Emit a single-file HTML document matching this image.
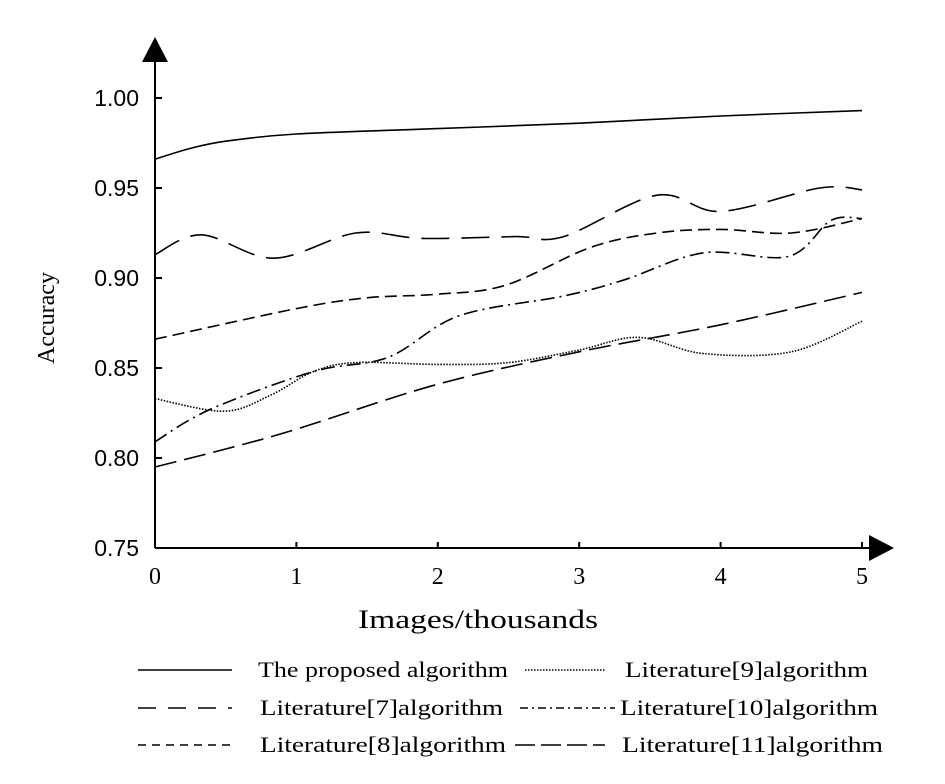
<!DOCTYPE html>
<html><head><meta charset="utf-8"><style>
body{margin:0;background:#fff}
svg{display:block}
</style></head><body>
<svg width="945" height="784" viewBox="0 0 945 784" xmlns="http://www.w3.org/2000/svg">
<g id="axes"></g>
<g id="series"></g>
<g id="legend"></g>
</svg>
<script>
const xTicks=[0,1,2,3,4,5];
const yTicks=[0.75,0.80,0.85,0.90,0.95,1.00];
const yTickLabels=["0.75","0.80","0.85","0.90","0.95","1.00"];
const proposedX=[0,0.25,0.5,1,2,3,4,5];
const proposedY=[0.966,0.972,0.976,0.980,0.983,0.986,0.990,0.993];
const lit7X=[0,0.33,0.84,1.42,1.89,2.55,2.89,3.55,4.0,4.7,5];
const lit7Y=[0.913,0.924,0.911,0.925,0.922,0.923,0.923,0.946,0.937,0.950,0.949];
const lit8X=[0,1,1.5,2,2.48,3.08,3.55,4,4.5,5];
const lit8Y=[0.866,0.883,0.889,0.891,0.896,0.917,0.925,0.927,0.925,0.933];
const lit9X=[0,0.49,0.82,1.12,1.42,2,2.5,3,3.42,3.88,4.5,5];
const lit9Y=[0.833,0.826,0.835,0.848,0.853,0.852,0.853,0.860,0.867,0.858,0.859,0.876];
const lit10X=[0,0.39,1.12,1.65,2.15,2.89,3.32,3.88,4.48,4.78,5];
const lit10Y=[0.809,0.827,0.848,0.856,0.879,0.890,0.899,0.914,0.912,0.932,0.933];
const lit11X=[0,0.5,1,2,3,4,5];
const lit11Y=[0.795,0.805,0.816,0.841,0.859,0.874,0.892];
const legendLabels=["The proposed algorithm","Literature[7]algorithm","Literature[8]algorithm","Literature[9]algorithm","Literature[10]algorithm","Literature[11]algorithm"];

const NS="http://www.w3.org/2000/svg";
const X0=155,XS=141.4,Y0=548,YS=1800;
const sx=v=>X0+v*XS, sy=v=>Y0-(v-0.75)*YS;
function mk(tag,attrs,parent){const e=document.createElementNS(NS,tag);for(const k in attrs)e.setAttribute(k,attrs[k]);parent.appendChild(e);return e;}
const axes=document.getElementById('axes');
const yAxis=mk('line',{x1:X0,y1:Y0,x2:X0,y2:55,stroke:'#000','stroke-width':2},axes);


const yArrow=mk('polygon',{points:'155,37 142,62 168,62',fill:'#000'},axes);


const xAxis=mk('line',{x1:X0,y1:Y0,x2:875,y2:Y0,stroke:'#000','stroke-width':2},axes);


const xArrow=mk('polygon',{points:'894,548 869,535 869,561',fill:'#000'},axes);


yTicks.forEach((v,i)=>{
  const t=mk('line',{x1:X0,y1:sy(v),x2:X0+7,y2:sy(v),stroke:'#000','stroke-width':2},axes);
  
  
  const l=mk('text',{x:139,y:sy(v)+8,'text-anchor':'end','font-family':'Liberation Sans, sans-serif','font-size':23,fill:'#000'},axes);
  
  
  l.textContent=yTickLabels[i];
});
xTicks.forEach(v=>{
  const t=mk('line',{x1:sx(v),y1:Y0,x2:sx(v),y2:Y0-6,stroke:'#000','stroke-width':2},axes);
  
  
  const l=mk('text',{x:sx(v),y:584,'text-anchor':'middle','font-family':'Liberation Serif, serif','font-size':24,fill:'#000'},axes);
  
  
  l.textContent=v;
});
const xt=mk('text',{x:358,y:628,'font-family':'Liberation Serif, serif','font-size':26,fill:'#000',textLength:240,lengthAdjust:'spacingAndGlyphs'},axes);


xt.textContent='Images/thousands';
const yt=mk('text',{x:0,y:0,'text-anchor':'middle','font-family':'Liberation Serif, serif','font-size':24,fill:'#000',transform:'translate(54,318) rotate(-90)'},axes);


yt.textContent='Accuracy';

function pathFrom(xs,ys){
  const p=xs.map((x,i)=>[sx(x),sy(ys[i])]);
  let d=`M${p[0][0]},${p[0][1]}`;
  for(let i=0;i<p.length-1;i++){
    const a=p[Math.max(0,i-1)],b=p[i],c=p[i+1],e=p[Math.min(p.length-1,i+2)];
    const c1=[b[0]+(c[0]-a[0])/6,b[1]+(c[1]-a[1])/6],c2=[c[0]-(e[0]-b[0])/6,c[1]-(e[1]-b[1])/6];
    d+=` C${c1[0]},${c1[1]} ${c2[0]},${c2[1]} ${c[0]},${c[1]}`;
  }
  return d;
}
const styles=[
 {name:'proposed-line',dash:'',x:proposedX,y:proposedY},
 {name:'literature-7-line',dash:'28 12',x:lit7X,y:lit7Y},
 {name:'literature-8-line',dash:'12 6',x:lit8X,y:lit8Y},
 {name:'literature-9-line',dash:'1.5 1.5',x:lit9X,y:lit9Y},
 {name:'literature-10-line',dash:'14 5 2 5',x:lit10X,y:lit10Y},
 {name:'literature-11-line',dash:'22 8',x:lit11X,y:lit11Y}
];
const sg=document.getElementById('series');
styles.forEach(s=>{
  const p=mk('path',{d:pathFrom(s.x,s.y),fill:'none',stroke:'#000','stroke-width':1.6,'stroke-dasharray':s.dash},sg);
  
  
});
const lg=document.getElementById('legend');
const legendDash=['','18 12','8 6','1.5 1.5','8 4 2 4','20 6'];
const legPos=[[138,232,258,250,670],[138,232,260,243,708],[138,232,260,246,745],[525,605,625,243,670],[520,615,620,258,708],[515,605,622,261,745]];
legPos.forEach((q,i)=>{
  const l=mk('line',{x1:q[0],y1:q[4],x2:q[1],y2:q[4],stroke:'#000','stroke-width':1.4,'stroke-dasharray':legendDash[i]},lg);
  
  
  const t=mk('text',{x:q[2],y:q[4]+7,'font-family':'Liberation Serif, serif','font-size':22,fill:'#000',textLength:q[3],lengthAdjust:'spacingAndGlyphs'},lg);
  
  
  t.textContent=legendLabels[i];
});
</script>
</body></html>
